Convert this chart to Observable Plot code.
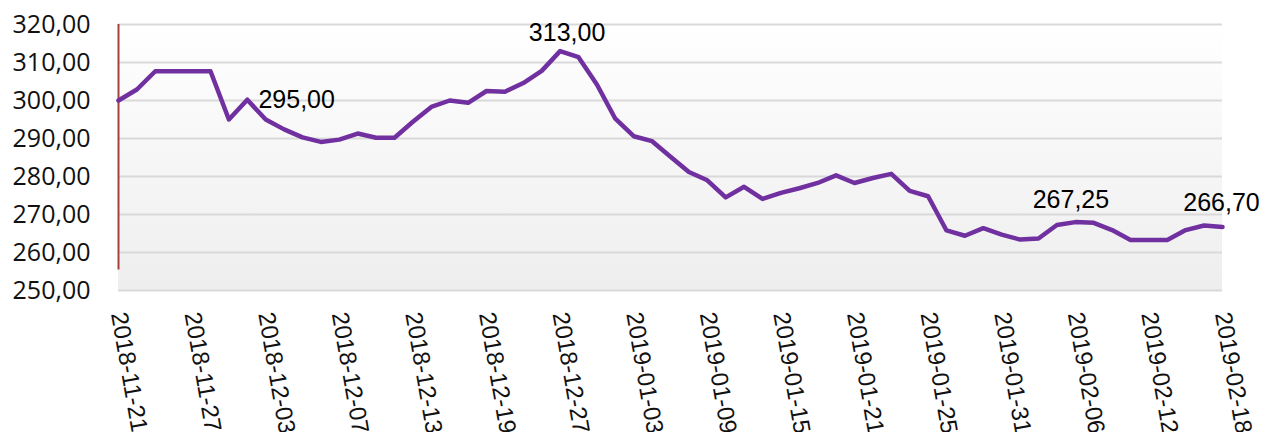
<!DOCTYPE html>
<html>
<head>
<meta charset="utf-8">
<script src="https://cdn.jsdelivr.net/npm/d3@7"></script>
<script src="https://cdn.jsdelivr.net/npm/@observablehq/plot@0.6"></script>
<style>
  html, body { margin: 0; padding: 0; background: #ffffff; }
  #chart { width: 1267px; height: 432px; overflow: hidden; }
</style>
</head>
<body>
<div id="chart"></div>
<script>
const dates = [
  "2018-11-21","2018-11-22","2018-11-23","2018-11-26","2018-11-27","2018-11-28","2018-11-29","2018-11-30",
  "2018-12-03","2018-12-04","2018-12-05","2018-12-06","2018-12-07","2018-12-10","2018-12-11","2018-12-12",
  "2018-12-13","2018-12-14","2018-12-17","2018-12-18","2018-12-19","2018-12-20","2018-12-21","2018-12-24",
  "2018-12-27","2018-12-28","2018-12-31","2019-01-02","2019-01-03","2019-01-04","2019-01-07","2019-01-08",
  "2019-01-09","2019-01-10","2019-01-11","2019-01-14","2019-01-15","2019-01-16","2019-01-17","2019-01-18",
  "2019-01-21","2019-01-22","2019-01-23","2019-01-24","2019-01-25","2019-01-28","2019-01-29","2019-01-30",
  "2019-01-31","2019-02-01","2019-02-04","2019-02-05","2019-02-06","2019-02-07","2019-02-08","2019-02-11",
  "2019-02-12","2019-02-13","2019-02-14","2019-02-15","2019-02-18"
];
const prices = [
  300.0, 302.9, 307.7, 307.7, 307.7, 307.7, 295.0, 300.2,
  295.0, 292.4, 290.3, 289.1, 289.7, 291.3, 290.2, 290.2,
  294.4, 298.3, 300.0, 299.4, 302.5, 302.3, 304.6, 307.8,
  313.0, 311.4, 304.2, 295.2, 290.6, 289.3, 285.2, 281.2,
  279.0, 274.5, 277.3, 274.1, 275.7, 276.9, 278.3, 280.3,
  278.3, 279.6, 280.7, 276.2, 274.8, 265.8, 264.4, 266.4,
  264.7, 263.4, 263.7, 267.25, 268.0, 267.8, 265.9, 263.3,
  263.3, 263.3, 265.9, 267.1, 266.7
];
const yTicks = [250, 260, 270, 280, 290, 300, 310, 320];
const xTicks = dates.filter((d, i) => i % 4 === 0);
const labelIndex = [8, 24, 51, 60];
const labelText = ["295,00", "313,00", "267,25", "266,70"];

const data = dates.map((d, i) => ({date: d, price: prices[i]}));
const labels = labelIndex.map((k, j) => ({date: dates[k], price: prices[k], text: labelText[j]}));
const fmt = v => v.toFixed(2).replace(".", ",");

const W = 1267, H = 432, ML = 118, MR = 45, MT = 24, MB = 142;

const bgMark = (index, scales, values, dims) => {
  const ns = "http://www.w3.org/2000/svg";
  const g = document.createElementNS(ns, "g");
  const defs = document.createElementNS(ns, "defs");
  const lg = document.createElementNS(ns, "linearGradient");
  lg.setAttribute("id", "plotbg");
  lg.setAttribute("x1", "0"); lg.setAttribute("y1", "0");
  lg.setAttribute("x2", "0"); lg.setAttribute("y2", "1");
  [["0%", "#ffffff"], ["100%", "#eeeeee"]].forEach(([o, c]) => {
    const s = document.createElementNS(ns, "stop");
    s.setAttribute("offset", o); s.setAttribute("stop-color", c);
    lg.appendChild(s);
  });
  defs.appendChild(lg);
  g.appendChild(defs);
  const r = document.createElementNS(ns, "rect");
  r.setAttribute("x", dims.marginLeft);
  r.setAttribute("y", dims.marginTop);
  r.setAttribute("width", dims.width - dims.marginLeft - dims.marginRight);
  r.setAttribute("height", dims.height - dims.marginTop - dims.marginBottom);
  r.setAttribute("fill", "url(#plotbg)");
  g.appendChild(r);
  return g;
};

const lbl = (k, dx, dy) => Plot.text([labels[k]], {
  x: "date", y: "price", text: "text", dx, dy,
  fontSize: 25, fontFamily: "Liberation Sans, Arial, sans-serif",
  fill: "#000000", textAnchor: "middle", letterSpacing: "1.2px"
});

const chart = Plot.plot({
  width: W,
  height: H,
  marginLeft: ML,
  marginRight: MR,
  marginTop: MT,
  marginBottom: MB,
  style: {background: "#ffffff", overflow: "hidden"},
  x: {type: "point", domain: dates, padding: 0, round: false},
  y: {domain: [250, 320]},
  marks: [
    bgMark,
    Plot.gridY(yTicks, {stroke: "#d9d9d9", strokeOpacity: 1, strokeWidth: 2}),
    Plot.axisY({
      ticks: yTicks, tickFormat: fmt, tickSize: 0, tickPadding: 28,
      fontSize: 25, fontFamily: "Open Sans, sans-serif", fill: "#111111", label: null
    }),
    Plot.axisX({
      ticks: xTicks, tickSize: 0, tickPadding: 22, tickRotate: 80,
      fontSize: 24, fontFamily: "Liberation Sans, Arial, sans-serif", fill: "#111111", label: null
    }),
    Plot.ruleX([dates[0]], {y1: 320, y2: 255.4, stroke: "#a5403c", strokeWidth: 2}),
    Plot.line(data, {x: "date", y: "price", stroke: "#7030a0", strokeWidth: 4.5, strokeLinejoin: "round"}),
    lbl(0, 31, -20),
    lbl(1, 7, -18),
    lbl(2, 14, -25),
    lbl(3, -1, -24)
  ]
});
document.getElementById("chart").appendChild(chart);
</script>
</body>
</html>
